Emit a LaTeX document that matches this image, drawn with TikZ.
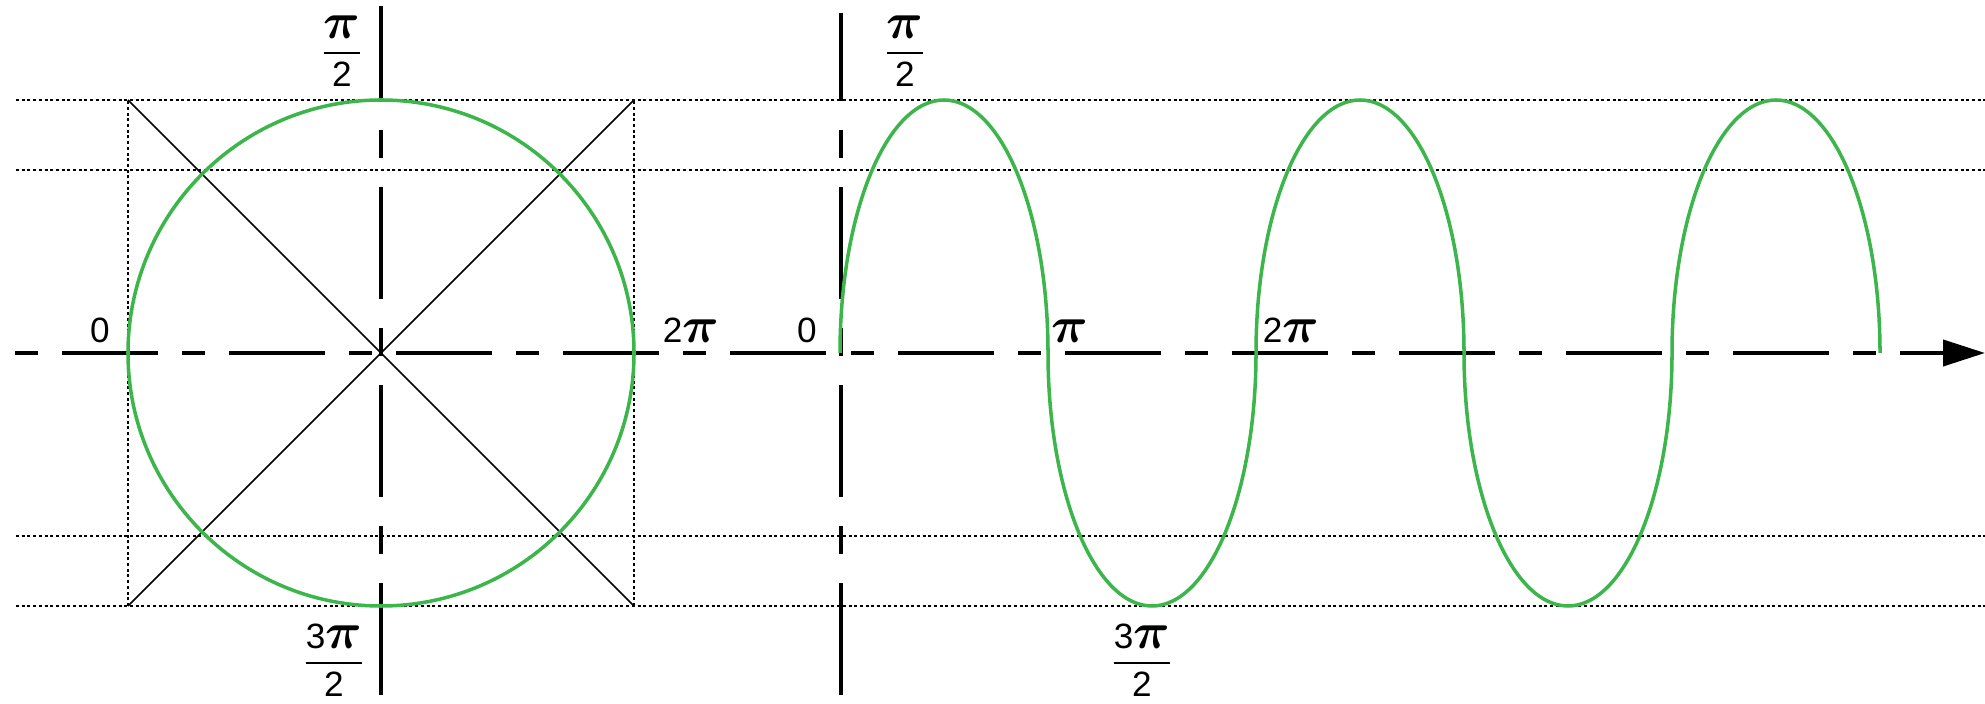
\documentclass[tikz,border=0pt]{standalone}
\usepackage{amsmath,amssymb,bm}
\usepackage{fontspec}
\setmainfont{Liberation Sans}
\usetikzlibrary{arrows.meta}
\definecolor{curvegreen}{RGB}{60,181,74}
\newcommand{\bigpi}{\scalebox{1.45}{$\bm{\pi}$}}
\newcommand{\pifrac}[2]{\genfrac{}{}{0.6pt}{0}{#1}{#2}}

\begin{document}
\begin{tikzpicture}[x=0.01cm,y=0.01cm,
  axisline/.style={line width=1.15pt},
  dotline/.style={line width=0.6pt,dash pattern=on 0.03cm off 0.027cm},
  thinline/.style={line width=0.45pt},
  curve/.style={curvegreen,line width=1pt},
  lbl/.style={inner sep=0pt,anchor=base}]
  \useasboundingbox (0,0) rectangle (1985,703);
  % guide lines
  \draw[dotline] (16,603) -- (1985,603);
  \draw[dotline] (16,533) -- (1985,533);
  \draw[dotline] (16,167) -- (1985,167);
  \draw[dotline] (16,97) -- (1985,97);
  \draw[dotline] (128,97) -- (128,603);
  \draw[dotline] (634,97) -- (634,603);
  \draw[thinline] (128,603) -- (634,97);
  \draw[thinline] (128,97) -- (634,603);
  % axes
  \draw[axisline,dash pattern=on 0.96cm off 0.24cm on 0.23cm off 0.24cm,dash phase=1.2cm,
    -{Triangle[length=0.42cm,width=0.26cm]}] (15,350) -- (1985,350);
  \draw[axisline,dash pattern=on 1.12cm off 0.29cm on 0.28cm off 0.29cm,dash phase=0.17cm] (381,697) -- (381,0);
  \draw[axisline,dash pattern=on 1.12cm off 0.29cm on 0.28cm off 0.29cm,dash phase=0.24cm] (841,690) -- (841,0);
  % circle and curve
  \draw[curve] (381,350) circle[radius=253];
  \draw[curve] (840,350) arc[start angle=180,end angle=0,x radius=104,y radius=253]
    arc[start angle=180,end angle=360,x radius=104,y radius=253]
    arc[start angle=180,end angle=0,x radius=104,y radius=253]
    arc[start angle=180,end angle=360,x radius=104,y radius=253]
    arc[start angle=180,end angle=0,x radius=104,y radius=253];
  % labels
  \node[lbl] (zeroL) at (100,360) {0};
  \node[lbl] (twopiL) at (691,360) {2\bigpi};
  \node[lbl] (zeroR) at (807,360) {0};
  \node[lbl] (piR) at (1070,360) {\bigpi};
  \node[lbl] (twopiR) at (1291,360) {2\bigpi};
  \node[inner sep=0pt] (halfL) at (342,652) {$\pifrac{\bigpi}{\text{2}}$};
  \node[inner sep=0pt] (halfR) at (905,652) {$\pifrac{\bigpi}{\text{2}}$};
  \node[inner sep=0pt] (threeL) at (334,43) {$\pifrac{\text{3}\bigpi}{\text{2}}$};
  \node[inner sep=0pt] (threeR) at (1142,43) {$\pifrac{\text{3}\bigpi}{\text{2}}$};
\end{tikzpicture}
\end{document}
